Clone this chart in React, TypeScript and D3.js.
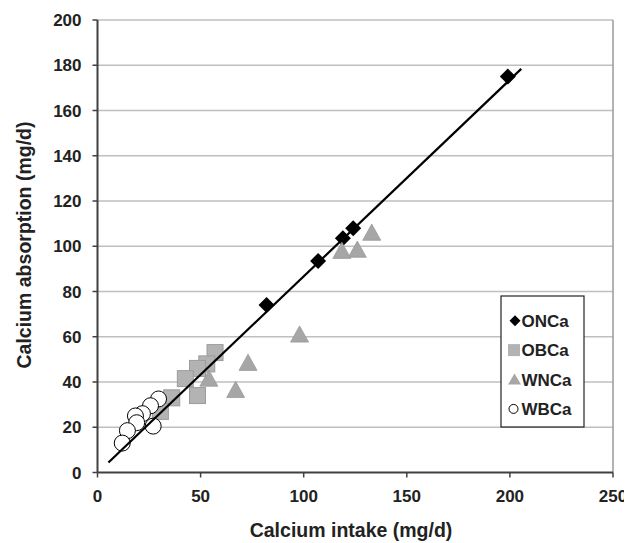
import React from "react";
import * as d3 from "d3";

const onX = [199, 124, 119, 107, 82];
const onY = [175, 108, 103.5, 93.5, 74];
const obX = [57, 53, 48.5, 42.6, 48.5, 36, 30.5];
const obY = [53, 48, 46, 41.5, 34, 33, 27];
const wnX = [133, 126, 118.5, 98, 73, 67, 54];
const wnY = [105.5, 98, 97.5, 60.5, 48, 36, 41];
const wbX = [29.6, 25.7, 21.8, 18.4, 19, 27, 14.5, 12];
const wbY = [32.5, 29.5, 26, 25, 22, 20.5, 18.5, 13];
const fitX = [5.3, 205.5];
const fitSlope = 0.869;
const fitIntercept = -0.2;
const xTicks = [0, 50, 100, 150, 200, 250];
const yTicks = [0, 20, 40, 60, 80, 100, 120, 140, 160, 180, 200];
const legendLabels = ["ONCa", "OBCa", "WNCa", "WBCa"];

const W = 632, H = 543;
const x = d3.scaleLinear().domain([0, 250]).range([89.5, 605]);
const y = d3.scaleLinear().domain([0, 200]).range([464.5, 12]);

const FONT = "Liberation Sans, Arial, sans-serif";

function Diamond({ cx, cy, r }: { cx: number; cy: number; r: number }) {
  return <path d={`M${cx},${cy - r}L${cx + r},${cy}L${cx},${cy + r}L${cx - r},${cy}Z`} fill="#000" />;
}
function Square({ cx, cy, s }: { cx: number; cy: number; s: number }) {
  return <rect x={cx - s / 2} y={cy - s / 2} width={s} height={s} fill="#b3b3b3" stroke="#9c9c9c" strokeWidth={1} />;
}
function Tri({ cx, cy, s }: { cx: number; cy: number; s: number }) {
  const h = s * 0.9;
  return <path d={`M${cx},${cy - h * 0.6}L${cx + s / 2},${cy + h * 0.4}L${cx - s / 2},${cy + h * 0.4}Z`} fill="#a6a6a6" stroke="#9a9a9a" strokeWidth={0.8} />;
}

export default function App() {
  const lineY = fitX.map((v) => fitSlope * v + fitIntercept);
  const line = d3.line<number>().x((d) => x(d)).y((d, i) => y(lineY[i]));
  return (
    <svg width={W} height={H} style={{ display: "block", fontFamily: FONT }}>
      <rect width={W} height={H} fill="#fff" />
      {yTicks.filter((t) => t > 0).map((t) => (
        <line key={t} x1={x(0)} x2={x(250)} y1={y(t)} y2={y(t)} stroke="#bfbfbf" strokeWidth={1.5} />
      ))}
      <line x1={x(250)} x2={x(250)} y1={y(200)} y2={y(0)} stroke="#9a9a9a" strokeWidth={1.5} />
      <line x1={x(0)} x2={x(0)} y1={y(200)} y2={y(0)} stroke="#404040" strokeWidth={2} />
      <line x1={x(0)} x2={x(250)} y1={y(0)} y2={y(0)} stroke="#404040" strokeWidth={2} />
      {yTicks.map((t) => (
        <g key={t}>
          <line x1={x(0) - 5} x2={x(0)} y1={y(t)} y2={y(t)} stroke="#404040" strokeWidth={1.5} />
          <text x={x(0) - 16} y={y(t)} dy="0.36em" textAnchor="end" fontSize={17} fontWeight="bold" fill="#222">{t}</text>
        </g>
      ))}
      {xTicks.map((t) => (
        <g key={t}>
          <line x1={x(t)} x2={x(t)} y1={y(0)} y2={y(0) + 5} stroke="#404040" strokeWidth={1.5} />
          <text x={x(t)} y={y(0) + 29.5} textAnchor="middle" fontSize={17} fontWeight="bold" fill="#222">{t}</text>
        </g>
      ))}
      <text x={343} y={529} textAnchor="middle" fontSize={19.5} fontWeight="bold" fill="#222">Calcium intake (mg/d)</text>
      <text transform="translate(23,237) rotate(-90)" textAnchor="middle" fontSize={19.5} fontWeight="bold" fill="#222">Calcium absorption (mg/d)</text>
      {onX.map((v, i) => <Diamond key={"on" + i} cx={x(v)} cy={y(onY[i])} r={8} />)}
      {obX.map((v, i) => <Square key={"ob" + i} cx={x(v)} cy={y(obY[i])} s={16} />)}
      {wnX.map((v, i) => <Tri key={"wn" + i} cx={x(v)} cy={y(wnY[i])} s={18} />)}
      {wbX.map((v, i) => <circle key={"wb" + i} cx={x(v)} cy={y(wbY[i])} r={8} fill="#fff" stroke="#000" strokeWidth={1} />)}
      <path d={line(fitX) || ""} fill="none" stroke="#000" strokeWidth={2.2} />
      <g>
        <rect x={493} y={288} width={83} height={131} fill="#fff" stroke="#222" strokeWidth={1.2} />
        {legendLabels.map((lab, i) => {
          const cy = 312.7 + i * 29.4;
          return (
            <g key={lab}>
              {i === 0 && <Diamond cx={507} cy={cy} r={5.5} />}
              {i === 1 && <rect x={500} y={cy - 6} width={12} height={12} fill="#b3b3b3" />}
              {i === 2 && <path d={`M506.5,${cy - 6}L513,${cy + 5}L500,${cy + 5}Z`} fill="#a6a6a6" />}
              {i === 3 && <circle cx={505.5} cy={cy} r={4.5} fill="#fff" stroke="#000" strokeWidth={1} />}
              <text x={513.5} y={cy} dy="0.36em" fontSize={17} fontWeight="bold" fill="#222">{lab}</text>
            </g>
          );
        })}
      </g>
    </svg>
  );
}
